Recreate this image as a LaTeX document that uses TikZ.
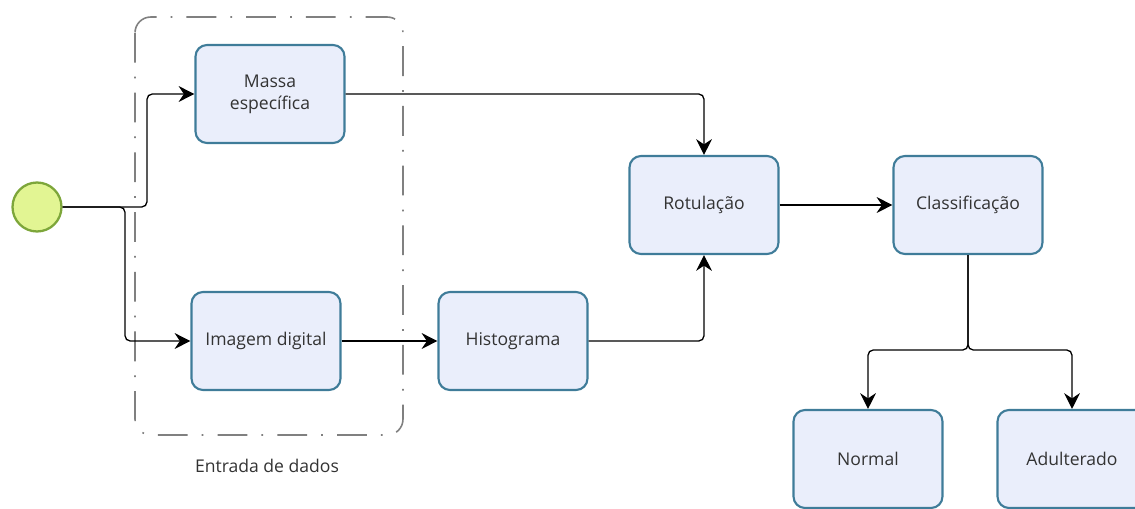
\documentclass[tikz,border=0pt]{standalone}
\usepackage{fontspec}
\setmainfont{Open Sans}
\usetikzlibrary{arrows.meta}
\definecolor{caixaborda}{HTML}{3F7C99}
\definecolor{caixafundo}{HTML}{EAEEFB}
\definecolor{iniciofundo}{HTML}{E2F593}
\definecolor{inicioborda}{HTML}{7DA63A}
\definecolor{texto}{HTML}{333333}

\begin{document}
\begin{tikzpicture}[x=0.02cm, y=0.02cm,
    caixa/.style={draw=caixaborda, fill=caixafundo, line width=1.2pt,
        rounded corners=6.5pt, minimum width=2.98cm, minimum height=1.96cm,
        align=center, text=texto, font=\fontsize{10}{12.5}\selectfont},
    seta/.style={line width=0.75pt, rounded corners=3pt,
        -{Stealth[length=9pt, width=9pt, inset=3pt]}},
    grupo/.style={draw=gray, line width=0.9pt, rounded corners=9pt,
        dash pattern=on 17pt off 8pt on 1pt off 8pt}]

    % Page size of the reference
    \useasboundingbox (0,0) rectangle (1135,508);

    % Group of data entry
    \draw[grupo] (135,491) rectangle (403,73);
    \node[text=texto, font=\fontsize{10}{12}\selectfont] (entrada) at (267,42) {Entrada de dados};

    % Start event
    \node[circle, draw=inicioborda, fill=iniciofundo, line width=1.3pt,
        minimum size=0.98cm] (inicio) at (37,301) {};

    % Tasks
    \node[caixa] (massa) at (270,414) {Massa\\específica};
    \node[caixa] (imagem) at (266,167) {Imagem digital};
    \node[caixa] (histograma) at (513,167) {Histograma};
    \node[caixa] (rotulacao) at (704,303) {Rotulação};
    \node[caixa] (classificacao) at (968,303) {Classificação};
    \node[caixa] (normal) at (868,49) {Normal};
    \node[caixa] (adulterado) at (1072,49) {Adulterado};

    % Bends of the connectors
    \coordinate (desvioA) at (147,301);
    \coordinate (desvioB) at (125,301);
    \coordinate (ramo) at (968,158);

    % Connectors
    \draw[seta] (inicio.east) -- (desvioA) |- (massa.west);
    \draw[seta] (inicio.east) -- (desvioB) |- (imagem.west);
    \draw[seta] (massa.east) -| (rotulacao.north);
    \draw[seta] (imagem.east) -- (histograma.west);
    \draw[seta] (histograma.east) -| (rotulacao.south);
    \draw[seta] (rotulacao.east) -- (classificacao.west);
    \draw[seta] (classificacao.south) -- (ramo) -| (normal.north);
    \draw[seta] (classificacao.south) -- (ramo) -| (adulterado.north);

\end{tikzpicture}
\end{document}
